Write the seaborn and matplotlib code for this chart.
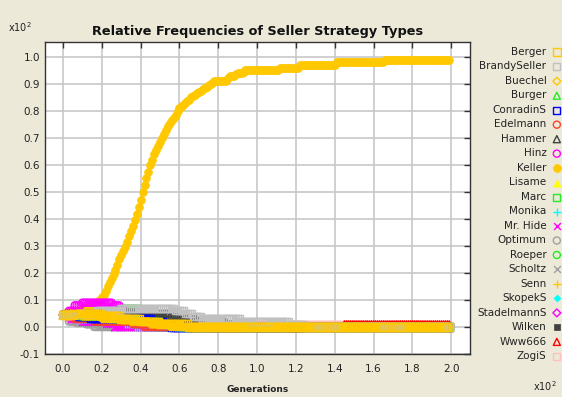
import numpy as np
import pandas as pd
import matplotlib
matplotlib.use("Agg")
import matplotlib.pyplot as plt
import seaborn as sns

# generaciones 0..199, eje x en unidades de x10^2
generations = np.arange(200)

# Keller: valores leidos por generacion (0-99) y tramos constantes despues
keller_early = [
    0.045, 0.05, 0.05, 0.05, 0.055, 0.055, 0.06, 0.06, 0.06, 0.065,
    0.065, 0.07, 0.07, 0.075, 0.08, 0.08, 0.085, 0.09, 0.095, 0.10,
    0.11, 0.12, 0.135, 0.15, 0.165, 0.18, 0.195, 0.21, 0.23, 0.25,
    0.265, 0.28, 0.295, 0.315, 0.335, 0.355, 0.375, 0.395, 0.42, 0.445,
    0.47, 0.5, 0.525, 0.55, 0.575, 0.6, 0.62, 0.64, 0.655, 0.67,
    0.685, 0.7, 0.715, 0.73, 0.745, 0.755, 0.765, 0.775, 0.785, 0.80,
    0.81, 0.815, 0.82, 0.83, 0.835, 0.84, 0.85, 0.855, 0.86, 0.865,
    0.87, 0.875, 0.88, 0.885, 0.89, 0.895, 0.90, 0.905, 0.91, 0.91,
    0.91, 0.91, 0.91, 0.91, 0.91, 0.92, 0.93, 0.93, 0.93, 0.935,
    0.94, 0.94, 0.94, 0.945, 0.95, 0.95, 0.95, 0.95, 0.95, 0.95,
]
keller_tail_v = [0.95, 0.96, 0.97, 0.98, 0.99]
keller_tail_n = [12, 10, 19, 25, 34]

# resto de estrategias: valor y numero de generaciones que se mantiene
berger_v = [0.045, 0.05, 0.04, 0.03, 0.02, 0.01, 0.0]
berger_n = [6, 14, 10, 10, 10, 15, 135]
brandy_v = [0.045, 0.05, 0.06, 0.07, 0.06, 0.05, 0.04, 0.03, 0.02, 0.01, 0.0]
brandy_n = [8, 10, 12, 28, 5, 4, 5, 20, 25, 8, 75]
buechel_v = [0.045, 0.04, 0.03, 0.02, 0.01, 0.0]
buechel_n = [10, 10, 15, 10, 10, 145]
burger_v = [0.045, 0.04, 0.03, 0.02, 0.01, 0.0]
burger_n = [10, 15, 15, 12, 8, 140]
conradin_v = [0.045, 0.04, 0.03, 0.02, 0.01, 0.0]
conradin_n = [8, 6, 32, 6, 4, 144]
edelmann_v = [0.045, 0.03, 0.02, 0.01, 0.0]
edelmann_n = [6, 10, 20, 6, 158]
hammer_v = [0.045, 0.05, 0.055, 0.05, 0.04, 0.03, 0.02, 0.01, 0.0]
hammer_n = [10, 20, 15, 10, 8, 7, 15, 10, 105]
hinz_v = [0.045, 0.06, 0.08, 0.09, 0.08, 0.06, 0.04, 0.02, 0.01, 0.0]
hinz_n = [3, 3, 4, 16, 4, 3, 3, 3, 3, 158]
lisame_v = [0.045, 0.04, 0.03, 0.02, 0.01, 0.0]
lisame_n = [10, 15, 15, 15, 5, 140]
marc_v = [0.045, 0.05, 0.06, 0.07, 0.05, 0.03, 0.02, 0.01, 0.0]
marc_n = [8, 6, 16, 10, 5, 5, 8, 7, 135]
monika_v = [0.045, 0.03, 0.025, 0.01, 0.0]
monika_n = [8, 12, 12, 5, 163]
mrhide_v = [0.045, 0.03, 0.02, 0.01, 0.0]
mrhide_n = [4, 6, 12, 4, 174]
optimum_v = [0.045, 0.02, 0.015, 0.01, 0.0]
optimum_n = [3, 4, 5, 4, 184]
roeper_v = [0.045, 0.04, 0.03, 0.025, 0.02, 0.01, 0.0]
roeper_n = [10, 10, 15, 12, 8, 5, 140]
scholtz_v = [0.045, 0.03, 0.01, 0.0]
scholtz_n = [5, 8, 8, 179]
senn_v = [0.045, 0.04, 0.03, 0.02, 0.01, 0.0]
senn_n = [12, 12, 12, 12, 12, 140]
skopek_v = [0.045, 0.04, 0.03, 0.02, 0.0]
skopek_n = [8, 10, 12, 5, 165]
stadelmann_v = [0.045, 0.03, 0.02, 0.01, 0.0]
stadelmann_n = [3, 6, 10, 6, 175]
wilken_v = [0.045, 0.04, 0.03, 0.02, 0.015, 0.01, 0.0]
wilken_n = [10, 15, 15, 15, 15, 20, 110]
www666_v = [0.045, 0.03, 0.02, 0.01, 0.0, 0.01]
www666_n = [8, 12, 20, 10, 95, 55]
zogis_v = [0.045, 0.03, 0.02, 0.01, 0.0]
zogis_n = [8, 20, 40, 77, 55]

keller = np.concatenate([keller_early, np.repeat(keller_tail_v, keller_tail_n)])

# nombre, valores, color, marcador, relleno, tamaño
series = [
    ("Berger", np.repeat(berger_v, berger_n), "#FFC800", "s", False, 30),
    ("BrandySeller", np.repeat(brandy_v, brandy_n), "#C0C0C0", "s", False, 26),
    ("Buechel", np.repeat(buechel_v, buechel_n), "#FFC800", "D", False, 16),
    ("Burger", np.repeat(burger_v, burger_n), "#22EE22", "^", False, 26),
    ("ConradinS", np.repeat(conradin_v, conradin_n), "#0000FF", "s", False, 26),
    ("Edelmann", np.repeat(edelmann_v, edelmann_n), "#FF4030", "o", False, 26),
    ("Hammer", np.repeat(hammer_v, hammer_n), "#404040", "^", False, 26),
    ("Hinz", np.repeat(hinz_v, hinz_n), "#FF00FF", "o", False, 26),
    ("Keller", keller, "#FFC800", "o", True, 32),
    ("Lisame", np.repeat(lisame_v, lisame_n), "#FFFF00", "^", True, 26),
    ("Marc", np.repeat(marc_v, marc_n), "#22EE22", "s", False, 26),
    ("Monika", np.repeat(monika_v, monika_n), "#00FFFF", "+", False, 30),
    ("Mr. Hide", np.repeat(mrhide_v, mrhide_n), "#FF00FF", "x", False, 24),
    ("Optimum", np.repeat(optimum_v, optimum_n), "#A0A0A0", "o", False, 26),
    ("Roeper", np.repeat(roeper_v, roeper_n), "#22EE22", "o", False, 26),
    ("Scholtz", np.repeat(scholtz_v, scholtz_n), "#A0A0A0", "x", False, 24),
    ("Senn", np.repeat(senn_v, senn_n), "#FFC800", "+", False, 30),
    ("SkopekS", np.repeat(skopek_v, skopek_n), "#00FFFF", "D", True, 12),
    ("StadelmannS", np.repeat(stadelmann_v, stadelmann_n), "#FF00FF", "D", False, 16),
    ("Wilken", np.repeat(wilken_v, wilken_n), "#404040", "s", True, 14),
    ("Www666", np.repeat(www666_v, www666_n), "#FF0000", "^", False, 26),
    ("ZogiS", np.repeat(zogis_v, zogis_n), "#FFC0C0", "s", False, 26),
]

sns.set_style("white")
plt.rcParams["font.family"] = ["DejaVu Sans"]

fig = plt.figure(figsize=(5.62, 3.97), dpi=100, facecolor="#ECE9D8")
ax = fig.add_axes([45 / 562, 43 / 397, 425 / 562, 312 / 397])
ax.set_facecolor("white")

x = generations / 100.0
# se dibuja en orden inverso: Berger queda encima
for name, vals, col, mk, filled, size in reversed(series):
    kw = dict(x=x, y=vals, marker=mk, s=size, ax=ax, label=name, zorder=3, legend=False)
    if mk in ("+", "x"):
        sns.scatterplot(color=col, linewidth=1.0, **kw)
    elif filled:
        sns.scatterplot(color=col, edgecolor=col, linewidth=0.5, **kw)
    else:
        sns.scatterplot(color=col, facecolor="none", edgecolor=col, linewidth=1.0, **kw)

if ax.get_legend() is not None:
    ax.get_legend().remove()

ax.set_xlim(-0.093, 2.097)
ax.set_ylim(-0.1, 1.055)
ax.set_xticks(np.arange(0, 2.01, 0.2))
ax.set_yticks(np.arange(-0.1, 1.01, 0.1))
ax.xaxis.set_major_formatter(matplotlib.ticker.FormatStrFormatter("%.1f"))
ax.yaxis.set_major_formatter(matplotlib.ticker.FormatStrFormatter("%.1f"))
ax.grid(True, color="#C8C8C8", linewidth=1.2, zorder=0)
ax.set_axisbelow(True)
for sp in ax.spines.values():
    sp.set_color("#333333")
    sp.set_linewidth(1.0)
    sp.set_visible(True)
ax.tick_params(direction="in", top=True, right=True, length=4, width=1,
               colors="#333333", labelsize=7.5, labelcolor="#222222")
ax.tick_params(axis="x", pad=7)

fig.text(257.5 / 562, 1 - 32 / 397, "Relative Frequencies of Seller Strategy Types",
         ha="center", va="center", fontsize=9.3, fontweight="bold", color="#111111")
fig.text(8 / 562, 1 - 27 / 397, r"x10$^{2}$", ha="left", va="center", fontsize=7, color="#222222")
fig.text(557 / 562, 1 - 386 / 397, r"x10$^{2}$", ha="right", va="center", fontsize=7, color="#222222")
fig.text(257.5 / 562, 1 - 389 / 397, "Generations", ha="center", va="center",
         fontsize=6.5, fontweight="bold", color="#222222")

handles, labels = ax.get_legend_handles_labels()
order = [n for n, *_ in series]
hl = dict(zip(labels, handles))
leg = fig.legend([hl[n] for n in order], order, loc="upper right",
                 bbox_to_anchor=(561 / 562, 1 - 47 / 397), markerfirst=False,
                 frameon=False, fontsize=7.5, labelspacing=0.43, handlelength=0.8,
                 handletextpad=0.6, borderpad=0, borderaxespad=0, scatterpoints=1)
for t in leg.get_texts():
    t.set_color("#222222")

fig.savefig("out.png", dpi=100, facecolor=fig.get_facecolor())
